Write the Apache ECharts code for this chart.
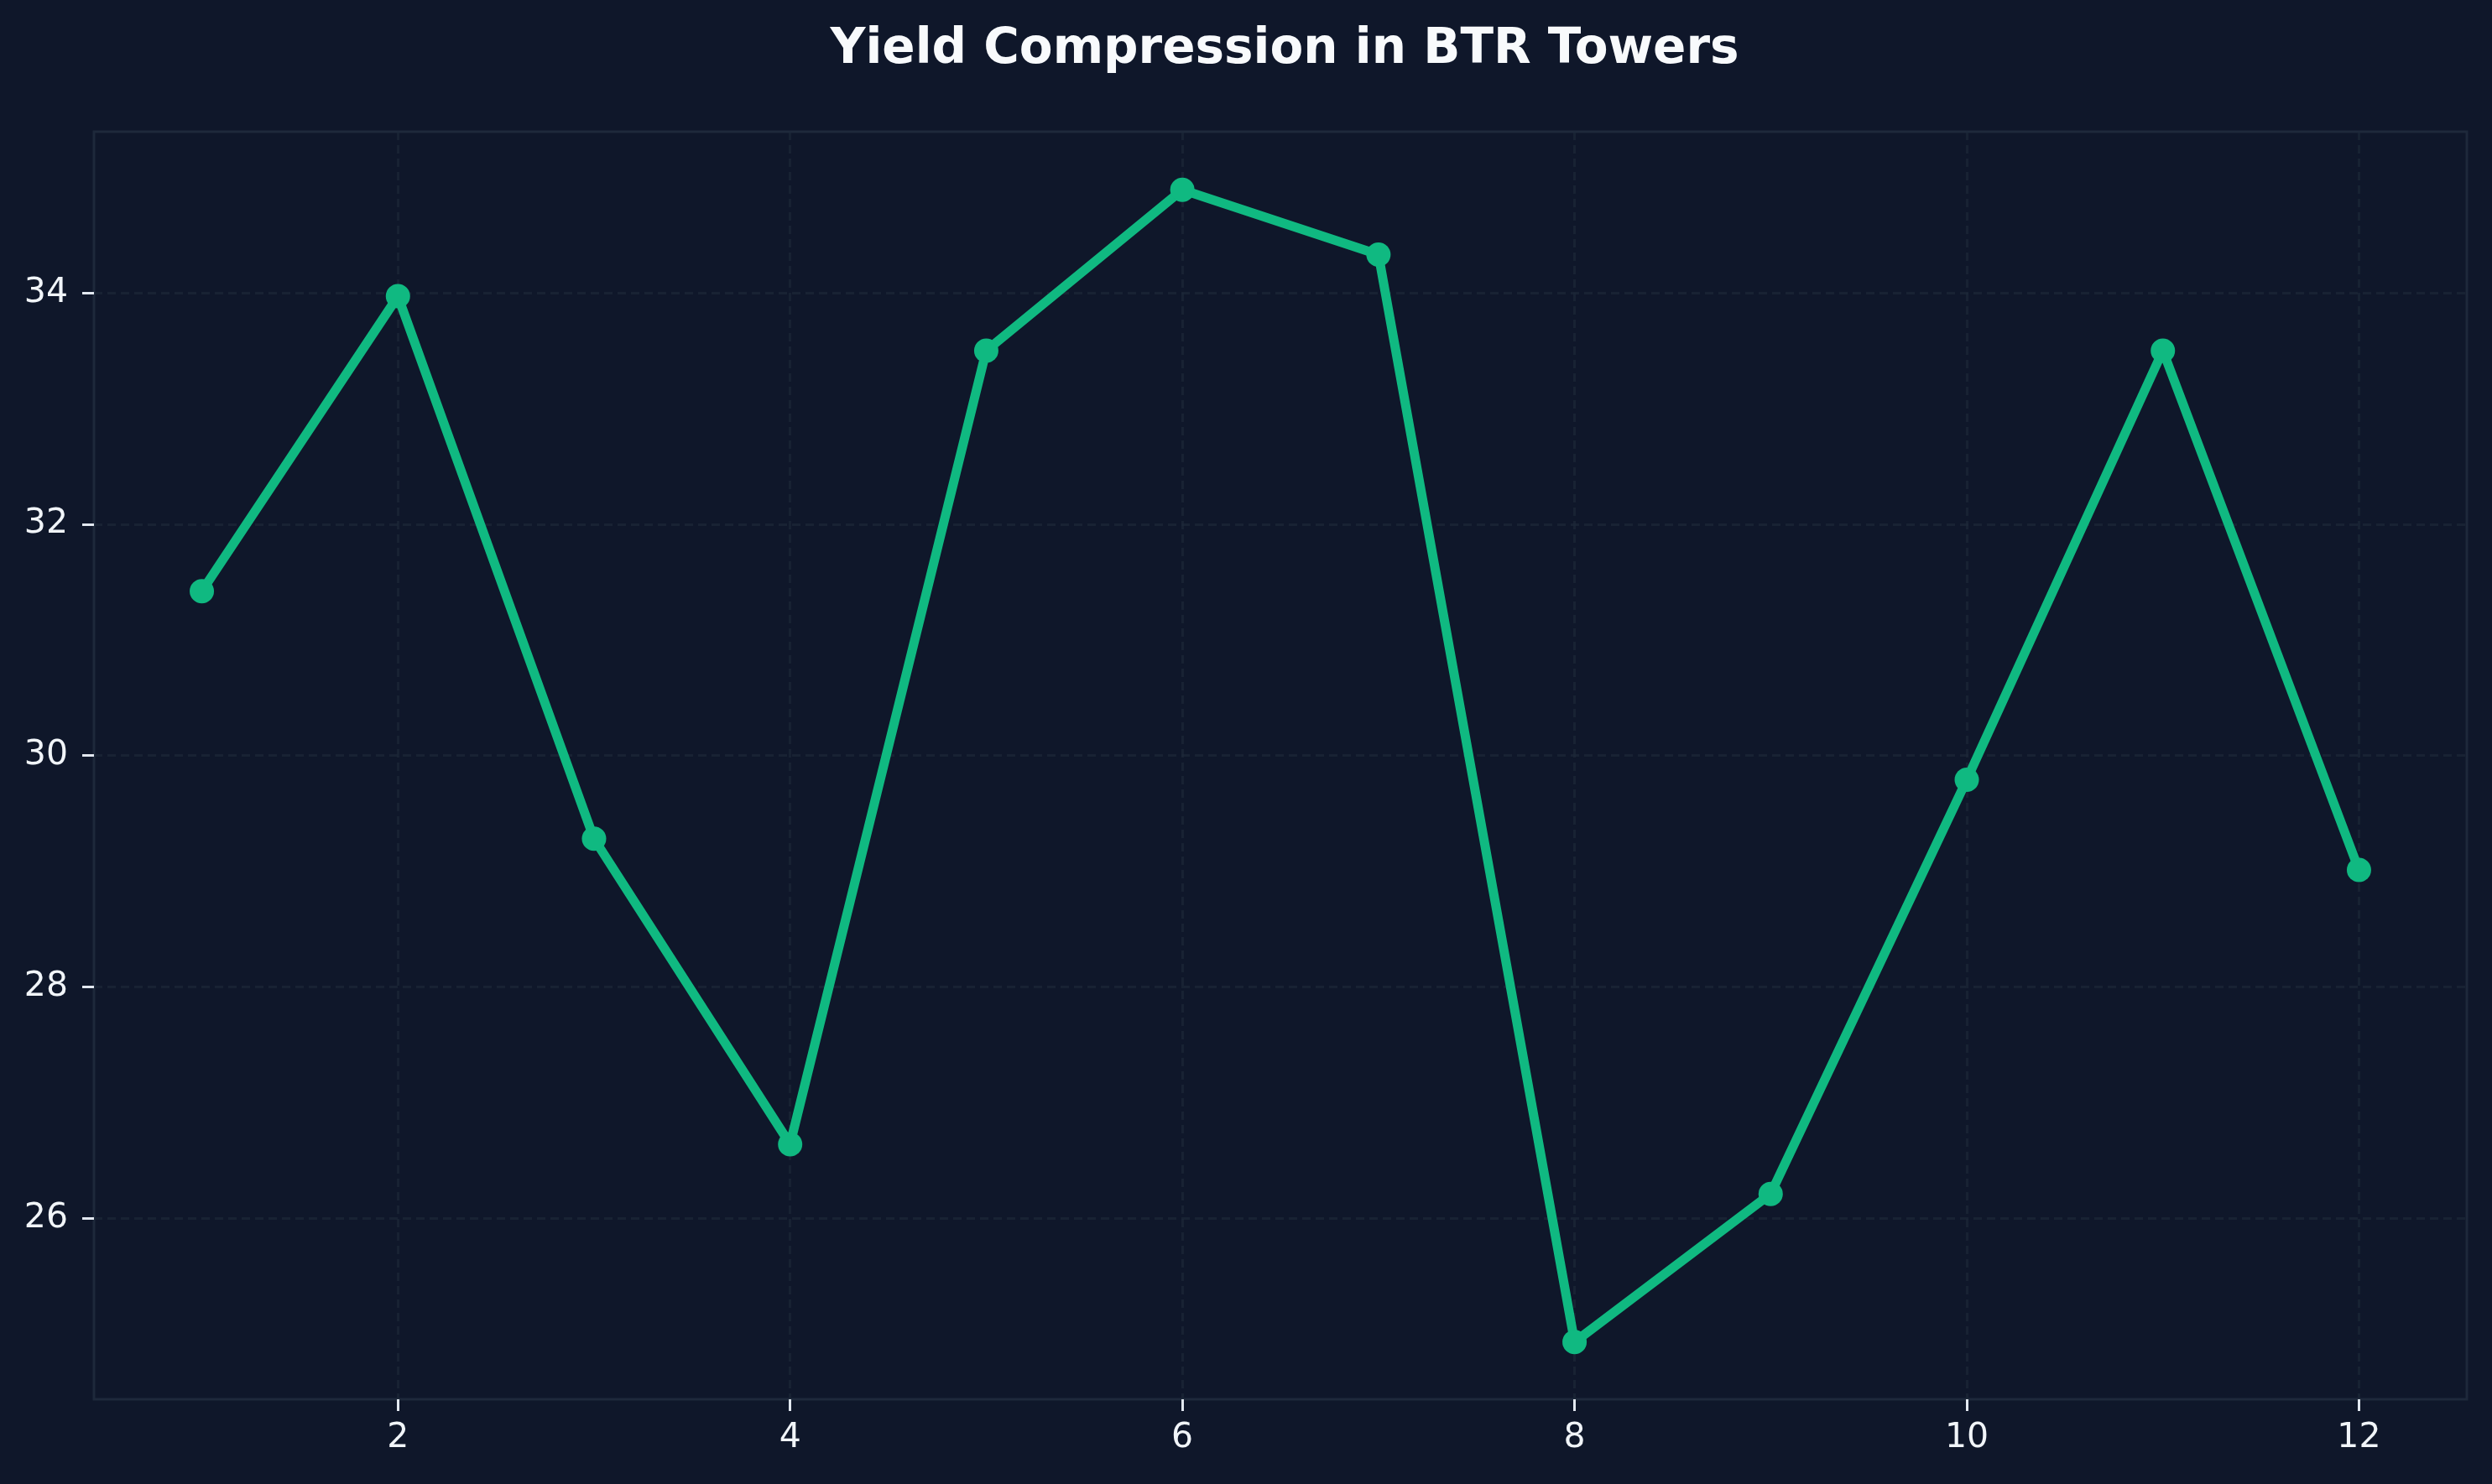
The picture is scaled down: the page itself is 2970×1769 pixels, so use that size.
<!DOCTYPE html>
<html>
<head>
<meta charset="utf-8">
<script src="https://cdn.jsdelivr.net/npm/echarts@6/dist/echarts.min.js"></script>
<style>
html,body{margin:0;padding:0;background:#0f172a;}
#chart{width:2970px;height:1769px;}
</style>
</head>
<body>
<div id="chart"></div>
<script>
const titleText = 'Yield Compression in BTR Towers';
const periods = [1, 2, 3, 4, 5, 6, 7, 8, 9, 10, 11, 12];
const yieldValues = [31.42, 33.97, 29.28, 26.64, 33.50, 34.89, 34.33, 24.93, 26.21, 29.79, 33.50, 29.01];
const xTicks = [2, 4, 6, 8, 10, 12];
const yTicks = [26, 28, 30, 32, 34];

const chart = echarts.init(document.getElementById('chart'), null, {renderer: 'canvas'});
const font = 'DejaVu Sans';
const gridColor = 'rgba(30,41,59,0.6)';
const seriesData = periods.map((p, i) => [p, yieldValues[i]]);

chart.setOption({
  backgroundColor: '#0f172a',
  animation: false,
  title: {
    text: titleText,
    left: 1526,
    textAlign: 'center',
    top: 26,
    textStyle: {fontFamily: font, fontSize: 58, fontWeight: 'bold', color: '#f8fafc'}
  },
  grid: {
    left: 112, right: 30, top: 157, bottom: 101,
    show: true, borderColor: '#1e293b', borderWidth: 3, backgroundColor: 'transparent'
  },
  xAxis: {
    type: 'value',
    min: 0.45, max: 12.55,
    axisLine: {show: false},
    axisTick: {show: true, customValues: xTicks, length: 14, lineStyle: {color: '#e2e8f0', width: 3}},
    axisLabel: {customValues: xTicks, margin: 26, fontFamily: font, fontSize: 41, color: '#f1f5f9'},
    splitLine: {show: true, lineStyle: {color: gridColor, width: 3, type: [10, 6]}}
  },
  yAxis: {
    type: 'value',
    min: 24.435, max: 35.392,
    axisLine: {show: false},
    axisTick: {show: true, customValues: yTicks, length: 14, lineStyle: {color: '#e2e8f0', width: 3}},
    axisLabel: {customValues: yTicks, margin: 31, fontFamily: font, fontSize: 41, color: '#f1f5f9'},
    splitLine: {show: true, lineStyle: {color: gridColor, width: 3, type: [10, 6]}}
  },
  series: [{
    type: 'line',
    data: seriesData,
    symbol: 'circle',
    symbolSize: 29,
    lineStyle: {color: '#10b981', width: 11},
    itemStyle: {color: '#10b981'},
    z: 5
  }]
});
</script>
</body>
</html>
